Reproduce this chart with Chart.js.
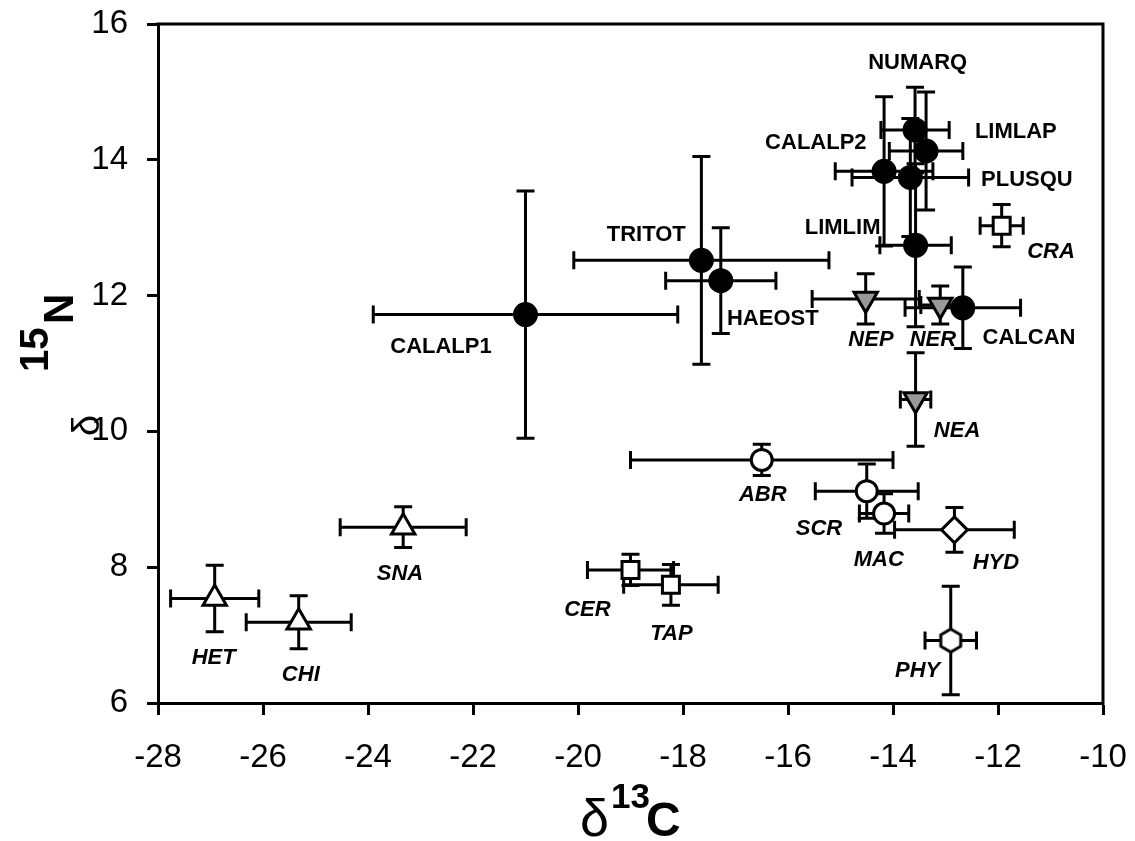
<!DOCTYPE html>
<html><head><meta charset="utf-8">
<script src="https://cdn.jsdelivr.net/npm/chart.js@4.4.1/dist/chart.umd.min.js"></script>
<style>html,body{margin:0;padding:0;background:#fff;overflow:hidden}</style>
</head><body>
<canvas id="c" width="1135" height="841" style="width:1135px;height:841px"></canvas>
<script>
const FONT = "'Liberation Sans', Arial, sans-serif";

// Tick values
const xTickValues = [-28,-26,-24,-22,-20,-18,-16,-14,-12,-10];
const yTickValues = [6,8,10,12,14,16];

// Black filled circles
const blackNames = ['CALALP1','TRITOT','HAEOST','NUMARQ','LIMLAP','CALALP2','PLUSQU','LIMLIM','CALCAN'];
const blackX     = [-21.0,-17.65,-17.28,-13.58,-13.37,-14.17,-13.67,-13.57,-12.67];
const blackY     = [11.72,12.52,12.22,14.44,14.13,13.83,13.74,12.74,11.82];
const blackXErr  = [2.9,2.43,1.05,0.65,0.7,0.93,1.11,0.68,1.1];
const blackYErr  = [1.82,1.53,0.78,0.63,0.87,1.1,0.87,1.2,0.6];
const blackLabelX = [-22.61,-18.7,-16.29,-13.53,-11.66,-15.47,-11.45,-14.96,-11.41];
const blackLabelY = [11.24,12.9,11.65,15.43,14.41,14.25,13.71,13.0,11.37];

// Grey inverted triangles
const greyNames = ['NEP','NER','NEA'];
const greyX     = [-14.52,-13.1,-13.57];
const greyY     = [11.95,11.86,10.47];
const greyXErr  = [1.02,0.37,0.29];
const greyYErr  = [0.37,0.28,0.69];
const greyLabelX = [-14.42,-13.24,-12.78];
const greyLabelY = [11.35,11.34,10.01];

// White circles
const circNames = ['ABR','SCR','MAC'];
const circX     = [-16.5,-14.5,-14.17];
const circY     = [9.58,9.12,8.79];
const circXErr  = [2.5,0.98,0.47];
const circYErr  = [0.23,0.4,0.29];
const circLabelX = [-16.48,-15.41,-14.27];
const circLabelY = [9.06,8.57,8.10];

// White diamond
const diaNames = ['HYD'];
const diaX     = [-12.83];
const diaY     = [8.55];
const diaXErr  = [1.14];
const diaYErr  = [0.33];
const diaLabelX = [-12.04];
const diaLabelY = [8.07];

// White squares
const sqNames = ['CRA','CER','TAP'];
const sqX     = [-11.93,-19.0,-18.23];
const sqY     = [13.03,7.96,7.74];
const sqXErr  = [0.41,0.82,0.9];
const sqYErr  = [0.31,0.23,0.3];
const sqLabelX = [-10.99,-19.82,-18.22];
const sqLabelY = [12.65,7.37,7.01];

// White triangles
const triNames = ['HET','CHI','SNA'];
const triX     = [-26.92,-25.32,-23.33];
const triY     = [7.54,7.19,8.59];
const triXErr  = [0.84,1.0,1.2];
const triYErr  = [0.49,0.39,0.3];
const triLabelX = [-26.94,-25.28,-23.39];
const triLabelY = [6.66,6.41,7.90];

// White hexagon
const hexNames = ['PHY'];
const hexX     = [-12.9];
const hexY     = [6.92];
const hexXErr  = [0.49];
const hexYErr  = [0.8];
const hexLabelX = [-13.53];
const hexLabelY = [6.47];

function pts(xs, ys, xe, ye){ return xs.map((v,i)=>({x:v, y:ys[i], xe:xe[i], ye:ye[i]})); }

// hexagon marker image
const hexImg = document.createElement('canvas');
hexImg.width = 32; hexImg.height = 32;
(function(){
  const g = hexImg.getContext('2d');
  const r = 11.5, cx = 16, cy = 16;
  g.beginPath();
  for (let k=0;k<6;k++){
    const a = -Math.PI/2 + k*Math.PI/3;
    const px = cx + r*Math.cos(a), py = cy + r*Math.sin(a);
    if (k===0) g.moveTo(px,py); else g.lineTo(px,py);
  }
  g.closePath();
  g.fillStyle = '#fff'; g.fill();
  g.lineWidth = 3; g.strokeStyle = '#000'; g.lineJoin='miter'; g.stroke();
})();

const CAP = 9;
const errorBars = {
  id: 'errorBars',
  beforeDatasetsDraw(chart){
    const {ctx, scales:{x, y}} = chart;
    ctx.save();
    ctx.strokeStyle = '#000'; ctx.lineWidth = 3; ctx.lineCap = 'butt';
    chart.data.datasets.forEach(ds => {
      ds.data.forEach(p => {
        const cx = x.getPixelForValue(p.x), cy = y.getPixelForValue(p.y);
        const x0 = x.getPixelForValue(p.x - p.xe), x1 = x.getPixelForValue(p.x + p.xe);
        const y0 = y.getPixelForValue(p.y - p.ye), y1 = y.getPixelForValue(p.y + p.ye);
        ctx.beginPath();
        ctx.moveTo(x0, cy); ctx.lineTo(x1, cy);
        ctx.moveTo(x0, cy - CAP); ctx.lineTo(x0, cy + CAP);
        ctx.moveTo(x1, cy - CAP); ctx.lineTo(x1, cy + CAP);
        ctx.moveTo(cx, y0); ctx.lineTo(cx, y1);
        ctx.moveTo(cx - CAP, y0); ctx.lineTo(cx + CAP, y0);
        ctx.moveTo(cx - CAP, y1); ctx.lineTo(cx + CAP, y1);
        ctx.stroke();
      });
    });
    ctx.restore();
  }
};

const pointLabels = {
  id: 'pointLabels',
  afterDatasetsDraw(chart){
    const {ctx, scales:{x, y}} = chart;
    ctx.save();
    ctx.fillStyle = '#000'; ctx.textAlign = 'center'; ctx.textBaseline = 'middle';
    chart.data.datasets.forEach(ds => {
      ctx.font = (ds.italicLabels ? 'italic ' : '') + 'bold 22px ' + FONT;
      ds.names.forEach((n, i) => {
        ctx.fillText(n, x.getPixelForValue(ds.labelX[i]), y.getPixelForValue(ds.labelY[i]));
      });
    });
    ctx.restore();
  }
};

const frameAndTitles = {
  id: 'frameAndTitles',
  afterDraw(chart){
    const {ctx, chartArea:a} = chart;
    ctx.save();
    ctx.strokeStyle = '#000'; ctx.lineWidth = 3;
    ctx.beginPath();
    ctx.moveTo(a.left - 1.5, a.top); ctx.lineTo(a.right, a.top); ctx.lineTo(a.right, a.bottom + 1.5);
    ctx.stroke();
    ctx.fillStyle = '#000'; ctx.textBaseline = 'alphabetic'; ctx.textAlign = 'left';
    // x title: δ13C
    ctx.font = '52px ' + FONT; ctx.fillText('δ', 580, 836);
    ctx.font = 'bold 35px ' + FONT; ctx.fillText('13', 611, 808);
    ctx.font = 'bold 48px ' + FONT; ctx.fillText('C', 646, 836);
    // y title rotated
    ctx.save();
    ctx.translate(73, 372); ctx.rotate(-Math.PI/2);
    ctx.font = 'bold 40px ' + FONT; ctx.fillText('15', 0, -25);
    ctx.font = 'bold 42px ' + FONT; ctx.fillText('N', 48, 0);
    ctx.restore();
    ctx.save();
    ctx.translate(99, 436); ctx.rotate(-Math.PI/2);
    ctx.font = '38px ' + FONT; ctx.fillText('δ', 0, 0);
    ctx.restore();
    ctx.restore();
  }
};

const whiteStyle = {backgroundColor:'#fff', borderColor:'#000', borderWidth:3};

new Chart(document.getElementById('c'), {
  type: 'scatter',
  data: {
    datasets: [
      {names: blackNames, labelX: blackLabelX, labelY: blackLabelY, italicLabels:false,
       data: pts(blackX, blackY, blackXErr, blackYErr), pointStyle:'circle', radius:11.5,
       backgroundColor:'#000', borderColor:'#000', borderWidth:2},
      {names: greyNames, labelX: greyLabelX, labelY: greyLabelY, italicLabels:true,
       data: pts(greyX, greyY, greyXErr, greyYErr), pointStyle:'triangle', rotation:180, radius:13.5,
       backgroundColor:'#999999', borderColor:'#000', borderWidth:3},
      {names: circNames, labelX: circLabelX, labelY: circLabelY, italicLabels:true,
       data: pts(circX, circY, circXErr, circYErr), pointStyle:'circle', radius:10.5, ...whiteStyle},
      {names: diaNames, labelX: diaLabelX, labelY: diaLabelY, italicLabels:true,
       data: pts(diaX, diaY, diaXErr, diaYErr), pointStyle:'rectRot', radius:13, ...whiteStyle},
      {names: sqNames, labelX: sqLabelX, labelY: sqLabelY, italicLabels:true,
       data: pts(sqX, sqY, sqXErr, sqYErr), pointStyle:'rect', radius:12, ...whiteStyle},
      {names: triNames, labelX: triLabelX, labelY: triLabelY, italicLabels:true,
       data: pts(triX, triY, triXErr, triYErr), pointStyle:'triangle', radius:13.5, ...whiteStyle},
      {names: hexNames, labelX: hexLabelX, labelY: hexLabelY, italicLabels:true,
       data: pts(hexX, hexY, hexXErr, hexYErr), pointStyle: hexImg, radius:12, ...whiteStyle}
    ]
  },
  options: {
    responsive: false, animation: false, devicePixelRatio: 1, events: [],
    layout: {padding: {top: 24, right: 32, left: 0, bottom: 0}},
    plugins: {legend:{display:false}, tooltip:{enabled:false}},
    scales: {
      x: {
        type:'linear', min:-28, max:-10,
        afterBuildTicks(s){ s.ticks = xTickValues.map(v=>({value:v})); },
        afterFit(s){ s.height = 138; s.paddingLeft = 0; s.paddingRight = 0; },
        grid: {display:true, drawOnChartArea:false, drawTicks:true, tickLength:12, tickWidth:3, tickColor:'#000'},
        border: {display:true, color:'#000', width:3},
        ticks: {color:'#000', font:{family:FONT, size:33}, padding:23, maxRotation:0, autoSkip:false}
      },
      y: {
        type:'linear', min:6, max:16,
        afterBuildTicks(s){ s.ticks = yTickValues.map(v=>({value:v})); },
        afterFit(s){ s.width = 158; s.paddingTop = 0; s.paddingBottom = 0; },
        grid: {display:true, drawOnChartArea:false, drawTicks:true, tickLength:11, tickWidth:3, tickColor:'#000'},
        border: {display:true, color:'#000', width:3},
        ticks: {color:'#000', font:{family:FONT, size:33}, padding:19, autoSkip:false}
      }
    }
  },
  plugins: [errorBars, pointLabels, frameAndTitles]
});
</script>
</body></html>
